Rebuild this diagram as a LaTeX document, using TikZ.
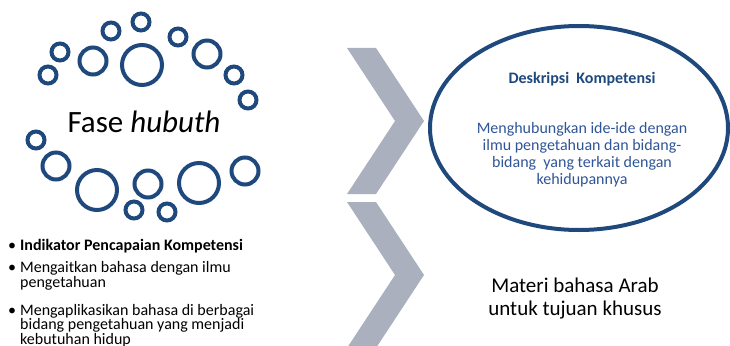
\documentclass[tikz,border=0pt]{standalone}
\usepackage{fontspec}
\setmainfont{Carlito}
\usepackage{tikz}
\usetikzlibrary{positioning, shapes.geometric}
\definecolor{ringblue}{RGB}{31,73,125}
\definecolor{chevgray}{RGB}{171,176,191}
\definecolor{descblue}{RGB}{47,85,151}

\begin{document}
\begin{tikzpicture}[x=1pt, y=-1pt,
        ring/.style={circle, draw=ringblue, line width=4pt, inner sep=0pt},
        small/.style={ring, minimum size=17pt},
        medium/.style={ring, minimum size=27pt},
        large/.style={ring, minimum size=40pt},
        chevron/.style={fill=chevgray},
        item/.style={anchor=base west, inner sep=0pt, align=left, font=\fontsize{16}{14.6}\selectfont},
        dot/.style={anchor=base west, inner sep=0pt, font=\fontsize{16}{14.6}\selectfont}]
        \useasboundingbox (0,0) rectangle (730,345);
        % rings round the phase name
        \node[large]  (c1)  at (142,65)  {};
        \node[medium] (c2)  at (93,61)   {};
        \node[small]  (c3)  at (60,52)   {};
        \node[small]  (c4)  at (48,75)   {};
        \node[small]  (c5)  at (111,31)  {};
        \node[small]  (c6)  at (141,22)  {};
        \node[small]  (c7)  at (178,37)  {};
        \node[medium] (c8)  at (207,54)  {};
        \node[small]  (c9)  at (234,75)  {};
        \node[small]  (c10) at (248,100) {};
        \node[small]  (c11) at (36,140)  {};
        \node[medium] (c12) at (56,166)  {};
        \node[large]  (c13) at (97,190)  {};
        \node[medium] (c14) at (148,184) {};
        \node[small]  (c15) at (134,210) {};
        \node[small]  (c16) at (167,212) {};
        \node[large]  (c17) at (199,183) {};
        \node[medium] (c18) at (245,171) {};
        \node[anchor=base, font=\fontsize{31}{36}\selectfont] (fase) at (144,132) {Fase \textit{hubuth}};
        % indicator list (multi-line nodes sit on their last baseline)
        \node[dot]  (b1) at (8,250) {\textbullet};
        \node[item] (i1) at (20,250) {\textbf{Indikator Pencapaian Kompetensi}};
        \node[dot]  (b2) at (8,272.5) {\textbullet};
        \node[item] (i2) at (20,287.1) {Mengaitkan bahasa dengan ilmu\\pengetahuan};
        \node[dot]  (b3) at (8,315) {\textbullet};
        \node[item] (i3) at (20,344.2) {Mengaplikasikan bahasa di berbagai\\bidang pengetahuan yang menjadi\\kebutuhan hidup};
        % chevrons
        \fill[chevron] (347,48) -- (376,48) -- (424,121) -- (376,194) -- (347,194) -- (395,121) -- cycle;
        \fill[chevron] (347,202) -- (376,202) -- (424,275) -- (376,348) -- (347,348) -- (395,275) -- cycle;
        % description
        \node[ellipse, draw=ringblue, line width=4pt, inner sep=0pt, minimum width=298pt, minimum height=204pt] (desc) at (579,128) {};
        \node[anchor=base, text=ringblue, font=\fontsize{16}{17}\selectfont\bfseries] (desctitle) at (582,83) {Deskripsi\ \ Kompetensi};
        \node[anchor=base, text=descblue, align=center, font=\fontsize{16}{17}\selectfont] (descbody) at (582,184) {Menghubungkan ide-ide dengan\\ilmu pengetahuan dan bidang-\\bidang\ \ yang terkait dengan\\kehidupannya};
        \node[anchor=base, align=center, font=\fontsize{21}{23}\selectfont] (materi) at (575,315) {Materi bahasa Arab\\untuk tujuan khusus};
    \end{tikzpicture}
\end{document}
